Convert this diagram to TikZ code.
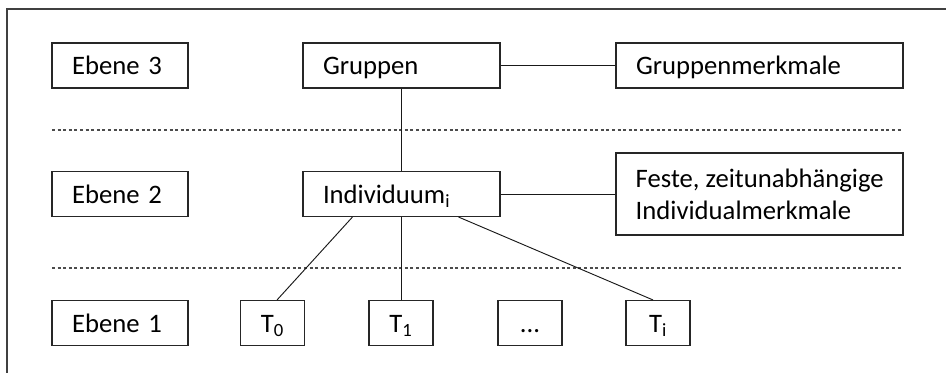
\documentclass[tikz,border=0pt]{standalone}
\usepackage{fontspec}
\setmainfont{Carlito}
\usetikzlibrary{calc}
\begin{document}
\begin{tikzpicture}[x=0.75pt,y=-0.75pt,
  every node/.style={font=\fontsize{20}{24}\selectfont},
  box/.style={draw=black!85, line width=0.8pt, inner xsep=15pt, inner ysep=0pt,
    minimum height=33.75pt, align=left, text height=18pt, text depth=4pt},
  ebox/.style={box, text width=72pt},
  gbox/.style={box, text width=117.75pt},
  mbox/.style={box, text width=185.25pt},
  tbox/.style={draw=black!85, line width=0.8pt, inner sep=0pt, minimum width=48pt,
    minimum height=33.75pt, align=center, text height=18pt, text depth=4pt},
  conn/.style={draw=black!90, line width=0.7pt},
  dotline/.style={draw=black!70, line width=0.8pt, dash pattern=on 2.2pt off 2pt},
  frame/.style={draw=black!75, line width=1.2pt}]
\useasboundingbox (0,0) rectangle (946,373);
\clip (0,0) rectangle (946,373);
\draw[frame] (7,9) rectangle (990,420);

\node[ebox] (e3) at (120,65.5) {Ebene 3};
\node[gbox] (grp) at (401.5,65.5) {Gruppen};
\node[mbox] (gm) at (759.5,65.5) {Gruppenmerkmale};

\node[ebox] (e2) at (120,194) {Ebene 2};
\node[gbox] (ind) at (401.5,194) {Individuum\textsubscript{i}};
\node[draw=black!85, line width=0.8pt, minimum width=215.25pt, minimum height=61.5pt] (fe) at (759.5,194) {};
\node[anchor=base west, align=left, inner sep=0pt] (fet) at ([xshift=15pt]fe.west |- 0,220) {\hyphenpenalty=10000 Feste, zeitunabhängige\\Individualmerkmale};

\node[ebox] (e1) at (120,323) {Ebene 1};
\node[tbox] (t0) at (272.5,323) {T\textsubscript{0}};
\node[tbox] (t1) at (401,323) {T\textsubscript{1}};
\node[tbox] (td) at (530,323) {...};
\node[tbox] (ti) at (658,323) {T\textsubscript{i}};

\coordinate (d1a) at (52,130);
\coordinate (d1b) at (903,130);
\coordinate (d2a) at (52,268);
\coordinate (d2b) at (903,268);
\draw[dotline] (d1a) -- (d1b);
\draw[dotline] (d2a) -- (d2b);

\draw[conn] (grp.east) -- (gm.west);
\draw[conn] (grp.south) -- (ind.north);
\draw[conn] (ind.east) -- (fe.west);
\draw[conn] ([xshift=37.5pt]ind.south west) -- ([xshift=3.4pt]t0.north);
\draw[conn] (ind.south) -- (ind.south |- t1.north);
\draw[conn] ([xshift=-31.5pt]ind.south east) -- ([xshift=-3.75pt]ti.north);
\end{tikzpicture}
\end{document}
